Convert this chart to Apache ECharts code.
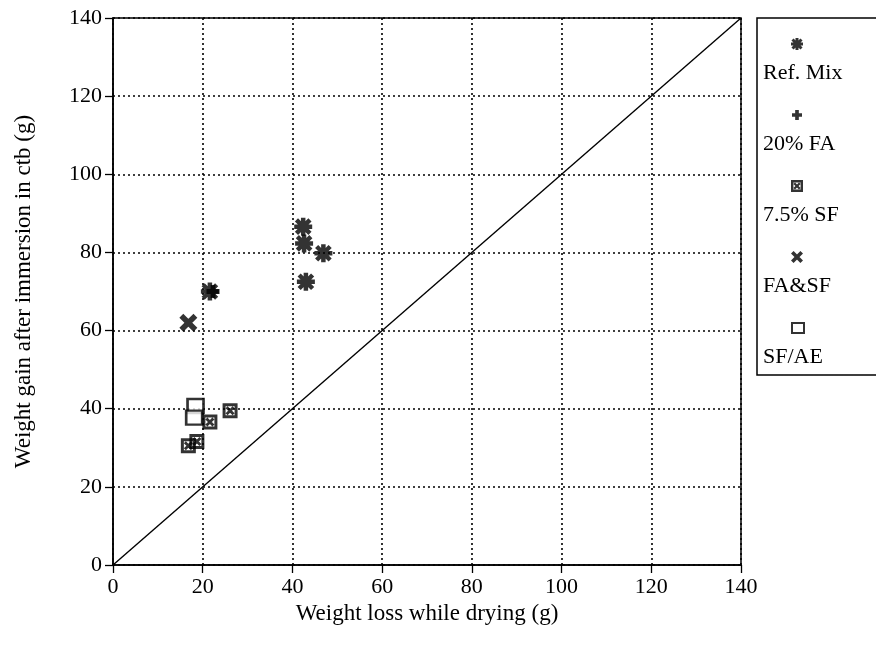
<!DOCTYPE html>
<html><head><meta charset="utf-8">
<script src="https://cdn.jsdelivr.net/npm/echarts@6/dist/echarts.min.js"></script>
<style>html,body{margin:0;padding:0;background:#fff}#c{width:876px;height:647px}</style>
</head><body><div id="c"></div>
<script>
const xTicks = [0, 20, 40, 60, 80, 100, 120, 140];
const yTicks = [0, 20, 40, 60, 80, 100, 120, 140];
const seriesNames = ['Ref. Mix', '20% FA', '7.5% SF', 'FA&SF', 'SF/AE'];
const refMix = [[42.4, 86.6], [42.6, 82.3], [46.9, 79.8], [43.0, 72.5], [21.6, 70.0]];
const fa20 = [[22.3, 70.0]];
const sf75 = [[26.1, 39.5], [21.6, 36.6], [18.7, 31.6], [16.8, 30.5]];
const fasf = [[16.8, 62.0]];
const sfae = [[18.4, 40.7], [18.1, 37.7]];
const diagonal = [[0, 0], [140, 140]];

const FONT = 'Liberation Serif';
const P_AST = 'path://M-2,-8 L2,-8 L2,8 L-2,8 Z M-8,-2 L8,-2 L8,2 L-8,2 Z M-7.4,-4.6 L-4.6,-7.4 L7.4,4.6 L4.6,7.4 Z M4.6,-7.4 L7.4,-4.6 L-4.6,7.4 L-7.4,4.6 Z';
const P_PLUS = 'path://M-2.2,-6 L2.2,-6 L2.2,-2.2 L6,-2.2 L6,2.2 L2.2,2.2 L2.2,6 L-2.2,6 L-2.2,2.2 L-6,2.2 L-6,-2.2 L-2.2,-2.2 Z';
const P_X = 'path://M-6,-3.4 L-3.4,-6 L6,3.4 L3.4,6 Z M3.4,-6 L6,-3.4 L-3.4,6 L-6,3.4 Z';
const P_XSQ = 'path://M0,0 L12,0 L12,12 L0,12 Z M2.4,2.4 L2.4,9.6 L9.6,9.6 L9.6,2.4 Z M2.4,4 L4,2.4 L9.6,8 L8,9.6 Z M8,2.4 L9.6,4 L4,9.6 L2.4,8 Z';

const symbols = {
  'Ref. Mix': {symbol: P_AST, size: 18, leg: 12},
  '20% FA': {symbol: P_PLUS, size: 13, leg: 10},
  '7.5% SF': {symbol: P_XSQ, size: 15, leg: 12},
  'FA&SF': {symbol: P_X, size: 18, leg: 12},
  'SF/AE': {symbol: 'rect', size: [16, 14], leg: 12}
};
const dataMap = {'Ref. Mix': refMix, '20% FA': fa20, '7.5% SF': sf75, 'FA&SF': fasf, 'SF/AE': sfae};

const chart = echarts.init(document.getElementById('c'), null, {renderer: 'canvas'});

const scatterSeries = seriesNames.map(n => ({
  name: n, type: 'scatter', data: dataMap[n],
  symbol: symbols[n].symbol, symbolSize: symbols[n].size,
  itemStyle: n === 'SF/AE' ? {color: '#fff', borderColor: '#000', borderWidth: 2.5} : {color: '#000'},
  z: 5
}));

const legends = seriesNames.map((n, i) => {
  const sy = 44 + i * 71;
  const sz = symbols[n].leg;
  return {
    data: [{name: n, icon: symbols[n].symbol}], left: 797 - sz / 2, top: sy - sz / 2,
    itemWidth: sz, itemHeight: n === 'SF/AE' ? 10 : sz, padding: 0, itemGap: 0,
    formatter: () => '', selectedMode: false,
    textStyle: {fontSize: 1}
  };
});

const legendGraphics = [{
  type: 'rect', shape: {x: 757, y: 18, width: 140, height: 357},
  style: {fill: 'none', stroke: '#000', lineWidth: 1.5}
}];
seriesNames.forEach((n, i) => {
  const ty = 73 + i * 71;
  legendGraphics.push({type: 'text', x: 763, y: ty, style: {text: n, font: '22px "' + FONT + '"',
    fill: '#000', verticalAlign: 'middle', textVerticalAlign: 'middle'}});
});

chart.setOption({
  animation: false,
  backgroundColor: '#fff',
  grid: {left: 113, right: 135, top: 18, bottom: 82, show: true, borderColor: '#000', borderWidth: 1.5},
  legend: legends,
  xAxis: {
    type: 'value', min: xTicks[0], max: xTicks[xTicks.length - 1], interval: xTicks[1] - xTicks[0],
    name: 'Weight loss while drying (g)', nameLocation: 'middle', nameGap: 31,
    nameTextStyle: {fontFamily: FONT, fontSize: 23, color: '#000', verticalAlign: 'top'},
    axisLine: {lineStyle: {color: '#000', width: 1.5}},
    axisTick: {show: true, length: 8, lineStyle: {color: '#000', width: 1.3}},
    axisLabel: {fontFamily: FONT, fontSize: 22, color: '#000', margin: 11},
    splitLine: {show: true, lineStyle: {color: '#000', type: [2, 3], width: 1.6}}
  },
  yAxis: {
    type: 'value', min: yTicks[0], max: yTicks[yTicks.length - 1], interval: yTicks[1] - yTicks[0],
    name: 'Weight gain after immersion in ctb (g)', nameLocation: 'middle', nameGap: 78,
    nameTextStyle: {fontFamily: FONT, fontSize: 23, color: '#000'},
    axisLine: {lineStyle: {color: '#000', width: 1.5}},
    axisTick: {show: true, length: 8, lineStyle: {color: '#000', width: 1.3}},
    axisLabel: {fontFamily: FONT, fontSize: 22, color: '#000', margin: 11},
    splitLine: {show: true, lineStyle: {color: '#000', type: [2, 3], width: 1.6}}
  },
  series: [{
    type: 'line', data: diagonal, symbol: 'none', silent: true,
    lineStyle: {color: '#000', width: 1.4}, z: 3
  }].concat(scatterSeries),
  graphic: legendGraphics
});
</script></body></html>
